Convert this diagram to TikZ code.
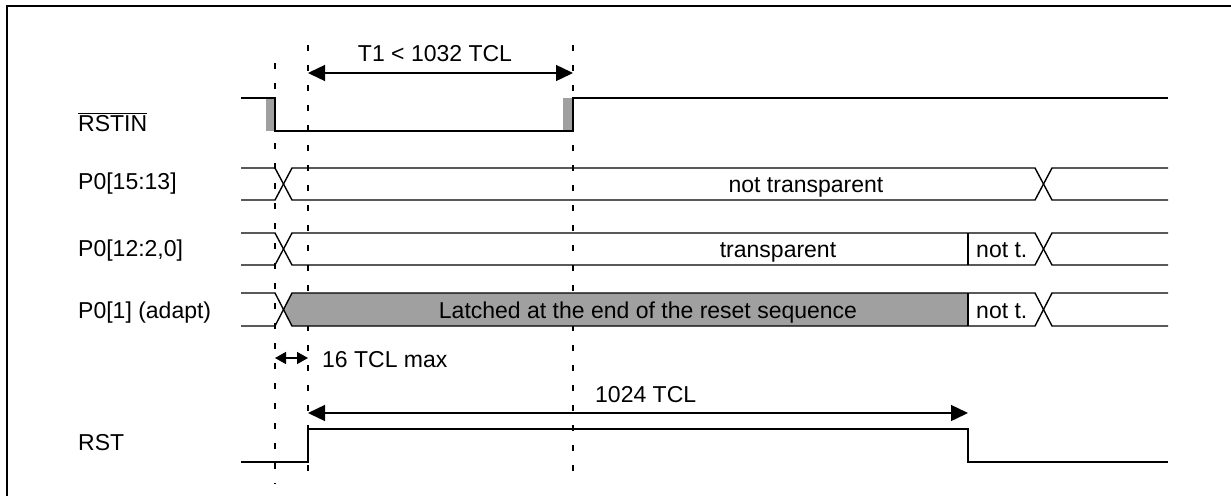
\documentclass[tikz,border=0pt]{standalone}
\usepackage{fontspec}
\setmainfont{Liberation Sans}
\usetikzlibrary{arrows.meta}
\definecolor{latchgray}{RGB}{160,160,160}
\begin{document}
\begin{tikzpicture}[x=1pt,y=-1pt,
  font=\fontsize{23}{28}\selectfont,
  sig/.style={line width=1.4pt, line join=miter},
  frame/.style={line width=2pt},
  guide/.style={line width=1.5pt, dash pattern=on 6pt off 14pt},
  dim/.style={line width=1.4pt, {Triangle[length=17pt,width=16pt]}-{Triangle[length=17pt,width=16pt]}},
  dimsmall/.style={line width=1.4pt, {Triangle[length=11pt,width=12pt]}-{Triangle[length=11pt,width=12pt]}},
  lbl/.style={anchor=base west, inner sep=0pt},
  txt/.style={anchor=base, inner sep=0pt},
  txtw/.style={anchor=base west, inner sep=0pt}]
\useasboundingbox (0,0) rectangle (1231,496);
% frame (only top and left visible)
\draw[frame] (1231,6) -- (7,6) -- (7,496);

% timing guides
\draw[guide] (275,63) -- (275,484);
\draw[guide] (308,45) -- (308,484);
\draw[guide] (573,45) -- (573,484);

% labels
\node[lbl] (lrstin) at (78,131) {$\overline{\mbox{RSTIN}}$};
\node[lbl] (lp1513) at (78,189) {P0[15:13]};
\node[lbl] (lp122) at (78,256) {P0[12:2,0]};
\node[lbl] (lp1) at (78,318) {P0[1] (adapt)};
\node[lbl] (lrst) at (78,450) {RST};

% RSTIN
\fill[latchgray] (266,98) rectangle (275,131);
\fill[latchgray] (563,98) rectangle (573,131);
\draw[sig] (241,98) -- (275,98) -- (275,131) -- (573,131) -- (573,98) -- (1168,98);

% P0[15:13]
\draw[sig] (241,168) -- (275,168) -- (292,200) -- (1035,200) -- (1052,168) -- (1168,168);
\draw[sig] (241,200) -- (275,200) -- (292,168) -- (1035,168) -- (1052,200) -- (1168,200);
\node[txt] (tnt) at (806,192) {not transparent};

% P0[12:2,0]
\draw[sig] (241,233) -- (275,233) -- (292,265) -- (1035,265) -- (1052,233) -- (1168,233);
\draw[sig] (241,265) -- (275,265) -- (292,233) -- (1035,233) -- (1052,265) -- (1168,265);
\draw[sig] (968,233) -- (968,265);
\node[txt] (ttr) at (778,257) {transparent};
\node[txtw] (tnt1) at (976,257) {not t.};

% P0[1] (adapt)
\fill[latchgray] (283.5,309.5) -- (292,293) -- (968,293) -- (968,326) -- (292,326) -- cycle;
\draw[sig] (241,293) -- (275,293) -- (292,326) -- (1035,326) -- (1052,293) -- (1168,293);
\draw[sig] (241,326) -- (275,326) -- (292,293) -- (1035,293) -- (1052,326) -- (1168,326);
\draw[sig] (968,293) -- (968,326);
\node[txt] (tlatch) at (648,318) {Latched at the end of the reset sequence};
\node[txtw] (tnt2) at (976,318) {not t.};

% RST
\draw[sig] (241,462) -- (308,462) -- (308,429) -- (968,429) -- (968,462) -- (1168,462);

% dimensions
\coordinate (a1) at (308,73);
\coordinate (a2) at (573,73);
\draw[dim] (a1) -- (a2);
\node[txt] (tT1) at (435,61) {T1 < 1032 TCL};

\coordinate (b1) at (275,358);
\coordinate (b2) at (308,358);
\draw[dimsmall] (b1) -- (b2);
\node[txtw] (t16) at (322,367) {16 TCL max};

\coordinate (c1) at (308,413);
\coordinate (c2) at (968,413);
\draw[dim] (c1) -- (c2);
\node[txtw] (t1024) at (595,402) {1024 TCL};
\end{tikzpicture}
\end{document}
